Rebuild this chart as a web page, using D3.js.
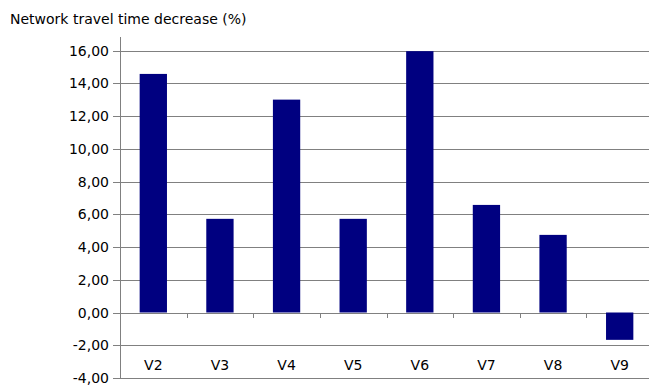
<!DOCTYPE html>
<html>
<head>
<meta charset="utf-8">
<script src="https://cdn.jsdelivr.net/npm/d3@7"></script>
<style>
  body { margin: 0; background: #fff; }
  svg text { font-family: "DejaVu Sans", Verdana, sans-serif; font-size: 14px; fill: #000; }
</style>
</head>
<body>
<svg id="chart" width="649" height="385"></svg>
<script>
const categories = ["V2", "V3", "V4", "V5", "V6", "V7", "V8", "V9"];
const values = [14.57, 5.72, 13.0, 5.72, 15.96, 6.57, 4.74, -1.67];
const yTicks = [-4, -2, 0, 2, 4, 6, 8, 10, 12, 14, 16];
const title = "Network travel time decrease (%)";

const svg = d3.select("#chart");
const plotLeft = 120, plotRight = 653, plotTop = 50.5, plotBottom = 378;

const x = d3.scaleBand()
    .domain(categories)
    .range([plotLeft, plotRight])
    .padding(0);

const y = d3.scaleLinear()
    .domain([-4, 16])
    .range([plotBottom, plotTop]);

// comma decimals and a plain hyphen for negatives, as in the original
const fmt = d3.formatLocale({decimal: ",", thousands: ".", grouping: [3], currency: ["", ""], minus: "-"}).format(".2f");
const py = d => Math.round(y(d)) + 0.5;

// gridlines
svg.append("g")
  .selectAll("line")
  .data(yTicks).enter()
  .append("line")
  .attr("x1", plotLeft)
  .attr("x2", 649)
  .attr("y1", py)
  .attr("y2", py)
  .attr("stroke", "#808080")
  .attr("stroke-width", 1);

// y axis line and ticks
svg.append("line")
  .attr("x1", plotLeft + 0.5).attr("x2", plotLeft + 0.5)
  .attr("y1", 37).attr("y2", py(-4))
  .attr("stroke", "#808080");

const yAxis = svg.append("g");
yAxis.selectAll("line")
  .data(yTicks).enter()
  .append("line")
  .attr("x1", plotLeft - 7).attr("x2", plotLeft)
  .attr("y1", py)
  .attr("y2", py)
  .attr("stroke", "#808080");

yAxis.selectAll("text")
  .data(yTicks).enter()
  .append("text")
  .attr("x", 109)
  .attr("y", d => y(d))
  .attr("dy", "0.36em")
  .attr("text-anchor", "end")
  .text(d => fmt(d));

// bars
const barW = x.bandwidth() * 0.41;
svg.append("g")
  .selectAll("rect")
  .data(values).enter()
  .append("rect")
  .attr("x", (d, i) => x(categories[i]) + (x.bandwidth() - barW) / 2)
  .attr("width", barW)
  .attr("y", d => y(Math.max(0, d)))
  .attr("height", d => Math.abs(y(d) - y(0)))
  .attr("fill", "#000080");

// category ticks on the zero line
svg.append("g")
  .selectAll("line")
  .data(categories.slice(1)).enter()
  .append("line")
  .attr("x1", d => Math.round(x(d)) + 0.5)
  .attr("x2", d => Math.round(x(d)) + 0.5)
  .attr("y1", Math.round(y(0)))
  .attr("y2", Math.round(y(0)) + 5)
  .attr("stroke", "#808080");

// category labels (low position)
svg.append("g")
  .selectAll("text")
  .data(categories).enter()
  .append("text")
  .attr("x", d => x(d) + x.bandwidth() / 2)
  .attr("y", 370)
  .attr("text-anchor", "middle")
  .text(d => d);

// title
svg.append("text")
  .attr("x", 10)
  .attr("y", 24)
  .text(title);
</script>
</body>
</html>
